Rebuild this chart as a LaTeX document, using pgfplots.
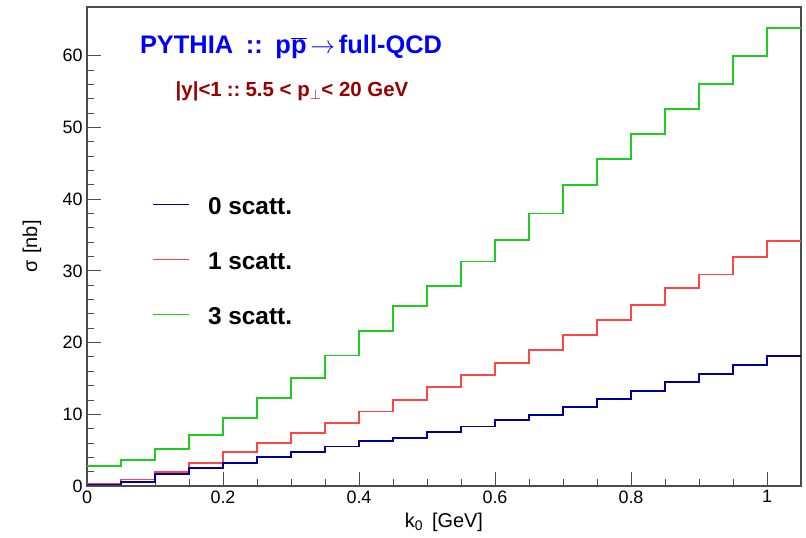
\documentclass[border=0pt]{standalone}
\usepackage{fontspec}
\setmainfont{Liberation Sans}
\usepackage{pgfplots}
\pgfplotsset{compat=1.18}
\definecolor{hblue}{RGB}{0,0,153}
\definecolor{hred}{RGB}{255,70,70}
\definecolor{hgreen}{RGB}{30,205,30}
\definecolor{tblue}{RGB}{0,0,255}
\definecolor{tred}{RGB}{153,0,0}
\begin{document}
\begin{tikzpicture}
\begin{axis}[
  at={(0,0)}, anchor=south west,
  scale only axis, width=714bp, height=479bp,
  xmin=0, xmax=1.05, ymin=0, ymax=66.8,
  xtick={0,0.2,0.4,0.6,0.8,1},
  ytick={0,10,20,30,40,50,60},
  minor x tick num=3, minor y tick num=4,
  tick align=inside, xtick pos=bottom, ytick pos=left,
  major tick length=14bp, minor tick length=7bp,
  every tick/.style={black!70, line width=0.9bp},
  axis line style={black!70, line width=1.1bp},
  /pgf/number format/assume math mode=true,
  ticklabel style={font=\fontsize{18}{18}\selectfont},
  xticklabel style={yshift=-1bp},
  yticklabel style={xshift=-1bp},
  xlabel={k$_{\mathrm{0}}$\, [GeV]},
  ylabel={σ\,\,[nb]},
  every axis x label/.style={at={(axis description cs:0.5,-0.0856)}, anchor=base, font=\fontsize{20}{20}\selectfont},
  every axis y label/.style={at={(axis description cs:-0.077,0.5)}, anchor=center, rotate=90, font=\fontsize{20}{20}\selectfont},
  reverse legend,
  legend image code/.code={\draw[#1] (0bp,1bp) -- (36bp,1bp);},
  legend style={at={(axis cs:0.0956,40.4)}, anchor=north west, draw=none, fill=none,
    font=\fontsize{24.5}{24.5}\selectfont\bfseries, inner sep=0pt, row sep=37bp,
    nodes={inner sep=0pt, text height=18bp, text depth=0bp},
    /tikz/every odd column/.append style={column sep=18bp}},
]
\addplot[const plot mark left, hgreen, line width=1.8bp] coordinates {
(0,2.8)(0.05,3.6)(0.1,5.2)(0.15,7.1)(0.2,9.5)(0.25,12.3)(0.3,15.1)(0.35,18.2)(0.4,21.6)(0.45,25.1)
(0.5,27.9)(0.55,31.3)(0.6,34.3)(0.65,38.0)(0.7,42.0)(0.75,45.6)(0.8,49.1)(0.85,52.6)(0.9,56.1)(0.95,60.0)(1.0,63.9)(1.05,63.9)};
\addlegendentry{3 scatt.}
\addplot[const plot mark left, hred, line width=1.8bp] coordinates {
(0,0.3)(0.05,0.9)(0.1,2.0)(0.15,3.2)(0.2,4.7)(0.25,6.0)(0.3,7.4)(0.35,8.8)(0.4,10.4)(0.45,12.0)
(0.5,13.8)(0.55,15.5)(0.6,17.2)(0.65,19.0)(0.7,21.1)(0.75,23.2)(0.8,25.2)(0.85,27.6)(0.9,29.5)(0.95,31.9)(1.0,34.2)(1.05,34.2)};
\addlegendentry{1 scatt.}
\addplot[const plot mark left, hblue, line width=1.8bp] coordinates {
(0,0.2)(0.05,0.6)(0.1,1.7)(0.15,2.5)(0.2,3.2)(0.25,4.0)(0.3,4.7)(0.35,5.5)(0.4,6.3)(0.45,6.7)
(0.5,7.5)(0.55,8.3)(0.6,9.2)(0.65,9.95)(0.7,11.0)(0.75,12.1)(0.8,13.3)(0.85,14.5)(0.9,15.6)(0.95,16.9)(1.0,18.1)(1.05,18.1)};
\addlegendentry{0 scatt.}
\node[anchor=base, text=tblue, font=\fontsize{25.5}{25.5}\selectfont\bfseries] at (axis cs:0.3,60.3)
  {PYTHIA\hspace{0.5em}::\hspace{0.5em}p$\overline{\hbox{p}}$\hspace{0.15em}$\rightarrow$\hspace{0.15em}full-QCD};
\node[anchor=base, text=tred, font=\fontsize{20.5}{20.5}\selectfont\bfseries] at (axis cs:0.3015,54.3)
  {|y|<1\hspace{0.25em}::\hspace{0.25em}5.5 < p$_{\perp}$< 20 GeV};
\end{axis}
\pgfresetboundingbox
\path[use as bounding box] (-87bp,-52bp) rectangle (719bp,486bp);
\end{tikzpicture}
\end{document}
